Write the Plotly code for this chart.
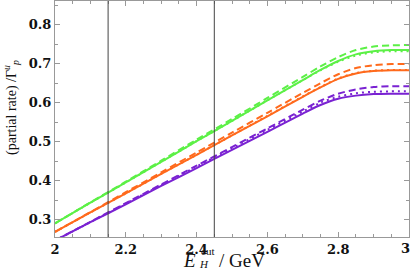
import plotly.graph_objects as go

x_vals = [2.0, 2.1, 2.2, 2.3, 2.4, 2.5, 2.6, 2.7, 2.75, 2.8, 2.85, 2.9, 2.95, 3.0]

green_solid  = [0.290, 0.343, 0.395, 0.448, 0.501, 0.553, 0.606, 0.658, 0.684, 0.707, 0.724, 0.732, 0.735, 0.735]
green_dashed = [0.290, 0.344, 0.397, 0.451, 0.505, 0.558, 0.612, 0.666, 0.693, 0.717, 0.735, 0.744, 0.747, 0.748]
green_dotted = [0.290, 0.343, 0.395, 0.448, 0.501, 0.553, 0.606, 0.658, 0.683, 0.705, 0.721, 0.729, 0.732, 0.732]

orange_solid  = [0.268, 0.318, 0.367, 0.417, 0.466, 0.516, 0.565, 0.615, 0.639, 0.661, 0.675, 0.681, 0.683, 0.683]
orange_dashed = [0.268, 0.319, 0.370, 0.421, 0.472, 0.523, 0.574, 0.625, 0.650, 0.673, 0.689, 0.696, 0.699, 0.699]
orange_dotted = [0.268, 0.318, 0.367, 0.417, 0.466, 0.516, 0.566, 0.616, 0.640, 0.662, 0.676, 0.682, 0.684, 0.684]

purple_solid  = [0.246, 0.293, 0.339, 0.386, 0.432, 0.479, 0.525, 0.572, 0.594, 0.610, 0.618, 0.622, 0.623, 0.623]
purple_dashed = [0.246, 0.294, 0.342, 0.390, 0.438, 0.486, 0.534, 0.582, 0.605, 0.623, 0.634, 0.640, 0.642, 0.642]
purple_dotted = [0.246, 0.293, 0.341, 0.388, 0.436, 0.483, 0.530, 0.577, 0.600, 0.615, 0.624, 0.628, 0.629, 0.629]

cut_lines = [2.15, 2.45]

x_ticks = [2.0, 2.2, 2.4, 2.6, 2.8, 3.0]
x_tick_labels = ["2", "2.2", "2.4", "2.6", "2.8", "3"]
y_ticks = [0.3, 0.4, 0.5, 0.6, 0.7, 0.8]
y_tick_labels = ["0.3", "0.4", "0.5", "0.6", "0.7", "0.8"]

GREEN = "#5cf046"
ORANGE = "#ff6a1c"
PURPLE = "#7a22d2"

series = [
    (green_solid, GREEN, "solid"), (orange_solid, ORANGE, "solid"), (purple_solid, PURPLE, "solid"),
    (green_dashed, GREEN, "7px,4px"), (orange_dashed, ORANGE, "7px,4px"), (purple_dashed, PURPLE, "7px,4px"),
    (green_dotted, GREEN, "2px,4px"), (orange_dotted, ORANGE, "2px,4px"), (purple_dotted, PURPLE, "2px,4px"),
]

W, H = 411, 270
ML, MR, MT, MB = 55, 2, 1, 33
PW, PH = W - ML - MR, H - MT - MB

def px(p):
    return (p - ML) / PW

def py(q):
    return (H - MB - q) / PH

fig = go.Figure()
for ys, col, dash in series:
    fig.add_trace(go.Scatter(x=x_vals, y=ys, mode="lines",
                             line=dict(color=col, width=2, dash=dash, shape="spline", smoothing=0.8),
                             showlegend=False, hoverinfo="skip"))

for xv in cut_lines:
    fig.add_shape(type="line", x0=xv, x1=xv, y0=0, y1=1, xref="x", yref="paper",
                  line=dict(color="#444444", width=1))

TICKFONT = dict(family="DejaVu Serif", size=13, color="#111111")
axis_common = dict(showgrid=False, zeroline=False, showline=True, linecolor="#999999", linewidth=1,
                   mirror="ticks", ticks="inside", ticklen=5, tickcolor="#999999", automargin=False,
                   tickfont=TICKFONT)

# last x label ("3") sits at the right paper edge; it is drawn as an annotation pulled inwards
xt_text = [f"<b>{t}</b>" for t in x_tick_labels[:-1]] + [""]
fig.update_xaxes(range=[2.0, 3.0], tickvals=x_ticks, ticktext=xt_text,
                 minor=dict(dtick=0.05, tick0=2.0, ticklen=3, ticks="inside", tickcolor="#999999"),
                 **axis_common)
fig.add_annotation(text=f"<b>{x_tick_labels[-1]}</b>", x=x_ticks[-1], xref="x", y=0, yref="paper",
                   xanchor="right", yanchor="top", yshift=-2, xshift=3, showarrow=False, font=TICKFONT)
fig.update_yaxes(range=[0.255, 0.861], tickvals=y_ticks, ticktext=[f"<b>{t}</b>" for t in y_tick_labels],
                 minor=dict(dtick=0.05, tick0=0.3, ticklen=3, ticks="inside", tickcolor="#999999"),
                 **axis_common)

def note(text, xp, yp, size, angle=0, xanchor="center", yanchor="middle", fam="Liberation Serif"):
    fig.add_annotation(text=text, xref="paper", yref="paper", x=px(xp), y=py(yp),
                       showarrow=False, textangle=angle, xanchor=xanchor, yanchor=yanchor,
                       font=dict(family=fam, size=size, color="#111111"))

# y-axis title
note("(partial rate) /Γ<sup><i>u</i></sup><sub><i>p</i></sub>", 11, 108, 14, angle=-90)

# x-axis title: E with stacked cut (sup) and H (sub), then / GeV
note("<i>E</i>", 181, 260, 19, xanchor="left")
note("cut", 199, 251, 11, xanchor="left")
note("<i>H</i>", 197, 264, 11, xanchor="left")
note("/ GeV", 217, 260, 19, xanchor="left")

fig.update_layout(width=W, height=H, margin=dict(l=ML, r=MR, t=MT, b=MB),
                  plot_bgcolor="white", paper_bgcolor="white")

fig.write_html("out.html", config={"displayModeBar": False},
               post_script="document.body.style.margin='0';document.body.style.overflow='hidden';")
